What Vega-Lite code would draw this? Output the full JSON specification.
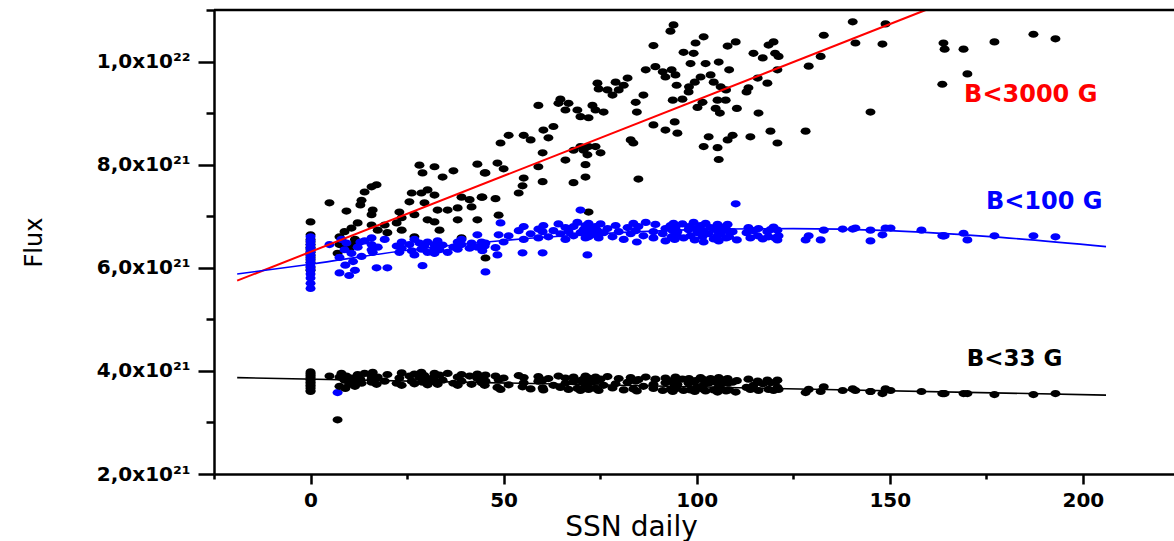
{
  "$schema": "https://vega.github.io/schema/vega-lite/v6.json",
  "autosize": "none",
  "width": 960,
  "height": 464,
  "padding": {"left": 214, "top": 10, "right": 0, "bottom": 67},
  "background": "white",
  "config": {"view": {"stroke": null}, "axis": {"grid": false}},
  "datasets": {
    "pts": [
      {"s":0,"a":6.89,"b":6.6,"c":3.98},{"s":0,"a":6.64,"b":6.52,"c":3.95},{"s":0,"a":6.55,"b":6.45,"c":3.92},{"s":0,"a":6.5,"b":6.38,"c":3.9},{"s":0,"a":6.45,"b":6.31,"c":3.87},{"s":0,"a":6.4,"b":6.24,"c":3.84},{"s":0,"a":6.35,"b":6.17,"c":3.81},{"s":0,"a":6.3,"b":6.1,"c":3.78},{"s":0,"a":6.25,"b":6.03,"c":3.75},{"s":0,"a":6.2,"b":5.96,"c":3.72},{"s":0,"a":6.1,"b":5.88,"c":3.69},{"s":0,"a":6.0,"b":5.8,"c":3.66},{"s":0,"a":5.95,"b":5.7,"c":3.62},{"s":0,"a":6.15,"b":5.6,"c":3.6},
      {"s":4.9,"a":7.26,"b":6.45,"c":3.9},{"s":7.0,"a":6.28,"b":3.58,"c":3.05},{"s":7.5,"a":6.6,"b":6.2,"c":3.88},{"s":7.5,"a":6.45,"b":5.9,"c":3.7},{"s":8.0,"a":6.5,"b":6.55,"c":3.95},{"s":8.8,"a":6.7,"b":6.35,"c":3.82},{"s":9.0,"a":6.4,"b":6.05,"c":3.66},{"s":9.3,"a":7.1,"b":6.48,"c":3.9},{"s":10.0,"a":6.35,"b":5.85,"c":3.74},{"s":10.6,"a":6.77,"b":6.28,"c":3.86},{"s":11.0,"a":6.45,"b":6.12,"c":3.78},{"s":11.5,"a":6.55,"b":5.95,"c":3.7},{"s":12.2,"a":6.87,"b":6.4,"c":3.93},{"s":12.9,"a":7.22,"b":6.5,"c":3.84},{"s":13.2,"a":7.31,"b":6.22,"c":3.76},
      {"s":14.0,"a":7.47,"b":6.52,"c":3.95},{"s":15.8,"a":7.57,"b":6.35,"c":3.78},{"s":15.8,"a":7.03,"b":6.45,"c":3.9},{"s":15.8,"a":6.83,"b":6.58,"c":3.84},{"s":16.1,"a":7.12,"b":6.3,"c":3.97},{"s":17.1,"a":7.61,"b":6.0,"c":3.74},{"s":17.4,"a":6.73,"b":6.4,"c":3.88},{"s":19.2,"a":6.83,"b":6.55,"c":3.8},{"s":19.9,"a":6.68,"b":6.0,"c":3.93},{"s":22.3,"a":6.87,"b":6.42,"c":3.76},{"s":23.0,"a":7.08,"b":6.3,"c":3.86},{"s":23.6,"a":6.97,"b":6.5,"c":3.96},{"s":23.6,"a":6.73,"b":6.38,"c":3.72},{"s":25.6,"a":7.28,"b":6.45,"c":3.9},{"s":26.2,"a":7.45,"b":6.33,"c":3.8},{"s":26.9,"a":7.03,"b":6.55,"c":3.94},{"s":26.9,"a":6.6,"b":6.25,"c":3.75},{"s":28.2,"a":7.99,"b":6.48,"c":3.87},{"s":28.7,"a":7.45,"b":6.36,"c":3.97},{"s":29.0,"a":7.84,"b":6.04,"c":3.78},{"s":29.5,"a":7.26,"b":6.42,"c":3.91},{"s":30.3,"a":7.51,"b":6.3,"c":3.73},{"s":30.3,"a":6.93,"b":6.5,"c":3.85},{"s":32.1,"a":7.96,"b":6.38,"c":3.95},{"s":32.1,"a":7.41,"b":6.45,"c":3.79},{"s":32.1,"a":6.89,"b":6.28,"c":3.89},{"s":32.9,"a":7.12,"b":6.52,"c":3.74},{"s":33.4,"a":6.73,"b":6.35,"c":3.92},{"s":34.2,"a":7.76,"b":6.44,"c":3.82},{"s":35.5,"a":7.12,"b":6.3,"c":3.95},{"s":37.0,"a":7.88,"b":6.4,"c":3.76},{"s":38.1,"a":7.16,"b":6.5,"c":3.88},{"s":38.1,"a":6.93,"b":6.36,"c":3.72},{"s":39.1,"a":7.37,"b":6.45,"c":3.93},{"s":39.1,"a":6.58,"b":6.55,"c":3.8},{"s":41.2,"a":7.32,"b":6.38,"c":3.9},{"s":41.7,"a":7.18,"b":6.48,"c":3.74},{"s":43.2,"a":8.01,"b":6.64,"c":3.85},{"s":43.2,"a":6.93,"b":6.4,"c":3.94},{"s":44.3,"a":7.37,"b":6.5,"c":3.77},{"s":44.5,"a":7.37,"b":6.33,"c":3.89},{"s":45.1,"a":7.84,"b":6.42,"c":3.72},{"s":45.3,"a":7.84,"b":6.48,"c":3.92},{"s":45.3,"a":6.19,"b":5.92,"c":3.8},
      {"s":47.9,"a":7.34,"b":6.39,"c":3.9},{"s":48.4,"a":8.03,"b":6.25,"c":3.68},{"s":48.7,"a":7.02,"b":6.64,"c":3.83},{"s":49.2,"a":8.42,"b":6.87,"c":3.64},{"s":50.0,"a":7.92,"b":6.5,"c":3.86},{"s":51.3,"a":8.57,"b":6.62,"c":3.73},{"s":53.9,"a":7.45,"b":6.72,"c":3.91},{"s":54.9,"a":7.59,"b":6.29,"c":3.69},{"s":55.2,"a":8.57,"b":6.55,"c":3.77},{"s":55.2,"a":7.74,"b":6.8,"c":3.87},{"s":57.0,"a":8.48,"b":6.66,"c":3.65},{"s":59.0,"a":9.15,"b":6.75,"c":3.8},{"s":59.0,"a":7.96,"b":6.58,"c":3.89},{"s":60.1,"a":8.23,"b":6.29,"c":3.67},{"s":60.1,"a":7.67,"b":6.7,"c":3.82},{"s":60.3,"a":8.67,"b":6.82,"c":3.63},{"s":61.6,"a":8.52,"b":6.6,"c":3.85},{"s":62.9,"a":8.74,"b":6.72,"c":3.72},{"s":64.2,"a":9.19,"b":6.85,"c":3.9},{"s":64.7,"a":9.27,"b":6.66,"c":3.68},{"s":66.0,"a":9.06,"b":6.78,"c":3.76},{"s":66.0,"a":8.09,"b":6.55,"c":3.86},{"s":66.8,"a":9.19,"b":6.7,"c":3.64},{"s":68.1,"a":8.28,"b":6.62,"c":3.79},{"s":68.1,"a":7.65,"b":6.8,"c":3.88},{"s":69.1,"a":9.06,"b":6.88,"c":3.66},{"s":69.9,"a":8.93,"b":7.12,"c":3.81},{"s":69.9,"a":8.35,"b":6.68,"c":3.62},{"s":70.7,"a":8.28,"b":6.74,"c":3.84},{"s":71.2,"a":8.0,"b":6.58,"c":3.72},{"s":71.2,"a":7.76,"b":6.82,"c":3.9},{"s":71.7,"a":8.19,"b":6.25,"c":3.68},{"s":72.0,"a":8.91,"b":6.7,"c":3.76},{"s":72.0,"a":8.35,"b":6.6,"c":3.86},{"s":72.0,"a":7.08,"b":6.86,"c":3.64},{"s":73.0,"a":9.15,"b":6.75,"c":3.79},{"s":73.8,"a":9.06,"b":6.64,"c":3.88},{"s":73.8,"a":8.35,"b":6.8,"c":3.66},{"s":74.3,"a":9.58,"b":6.72,"c":3.81},{"s":74.6,"a":9.47,"b":6.58,"c":3.62},{"s":75.1,"a":8.23,"b":6.85,"c":3.84},{"s":75.9,"a":9.02,"b":6.68,"c":3.72},{"s":76.9,"a":9.45,"b":6.76,"c":3.89},{"s":78.2,"a":9.35,"b":6.6,"c":3.67},{"s":79.0,"a":9.6,"b":6.82,"c":3.75},{"s":79.8,"a":9.45,"b":6.7,"c":3.85},{"s":81.1,"a":9.54,"b":6.55,"c":3.63},{"s":82.1,"a":9.68,"b":6.78,"c":3.78},{"s":82.9,"a":8.48,"b":6.66,"c":3.87},{"s":83.6,"a":8.42,"b":6.86,"c":3.65},{"s":84.2,"a":9.21,"b":6.72,"c":3.8},{"s":84.5,"a":9.02,"b":6.5,"c":3.61},{"s":84.9,"a":7.72,"b":6.8,"c":3.83},{"s":86.2,"a":9.35,"b":6.62,"c":3.7},{"s":86.8,"a":9.84,"b":6.88,"c":3.88},{"s":88.8,"a":10.31,"b":6.7,"c":3.66},{"s":88.8,"a":8.77,"b":6.58,"c":3.74},{"s":89.3,"a":9.9,"b":6.84,"c":3.84},{"s":91.2,"a":9.8,"b":6.66,"c":3.62},{"s":91.9,"a":9.7,"b":6.76,"c":3.77},{"s":91.9,"a":8.67,"b":6.52,"c":3.86},{"s":93.2,"a":10.59,"b":6.82,"c":3.64},{"s":93.5,"a":9.84,"b":6.6,"c":3.79},{"s":93.8,"a":9.25,"b":6.72,"c":3.6},{"s":94.0,"a":10.71,"b":6.86,"c":3.82},{"s":94.3,"a":8.83,"b":6.55,"c":3.7},{"s":94.5,"a":9.74,"b":6.78,"c":3.88},{"s":94.8,"a":9.54,"b":6.64,"c":3.66},{"s":95.0,"a":8.61,"b":6.7,"c":3.74},{"s":96.3,"a":9.27,"b":6.85,"c":3.84},{"s":96.6,"a":10.18,"b":6.58,"c":3.62},{"s":97.9,"a":9.41,"b":6.74,"c":3.76},{"s":98.0,"a":9.51,"b":6.8,"c":3.85},{"s":98.4,"a":9.96,"b":6.62,"c":3.63},{"s":99.2,"a":10.16,"b":6.88,"c":3.78},{"s":99.5,"a":9.6,"b":6.54,"c":3.6},{"s":99.7,"a":10.36,"b":6.76,"c":3.81},{"s":100.2,"a":9.11,"b":6.68,"c":3.69},{"s":101.0,"a":9.7,"b":6.82,"c":3.87},{"s":101.5,"a":9.21,"b":6.6,"c":3.65},{"s":101.8,"a":10.48,"b":6.72,"c":3.73},{"s":101.8,"a":8.35,"b":6.5,"c":3.83},{"s":102.3,"a":9.96,"b":6.86,"c":3.61},{"s":103.1,"a":8.54,"b":6.66,"c":3.76},{"s":103.6,"a":9.74,"b":6.78,"c":3.85},{"s":104.4,"a":9.6,"b":6.56,"c":3.63},{"s":104.9,"a":9.09,"b":6.74,"c":3.78},{"s":105.4,"a":9.25,"b":6.84,"c":3.59},{"s":105.4,"a":8.33,"b":6.62,"c":3.81},{"s":105.7,"a":9.99,"b":6.7,"c":3.69},{"s":105.7,"a":8.1,"b":6.52,"c":3.87},{"s":106.0,"a":9.0,"b":6.8,"c":3.65},{"s":106.2,"a":9.51,"b":6.66,"c":3.73},{"s":107.5,"a":9.25,"b":6.76,"c":3.83},{"s":107.6,"a":9.45,"b":6.58,"c":3.61},{"s":108.0,"a":10.3,"b":6.72,"c":3.76},{"s":108.0,"a":8.48,"b":6.84,"c":3.85},{"s":108.4,"a":9.84,"b":6.6,"c":3.63},{"s":109.3,"a":8.57,"b":6.7,"c":3.78},{"s":110.1,"a":10.38,"b":7.24,"c":3.59},{"s":110.4,"a":9.09,"b":6.54,"c":3.81},{"s":112.9,"a":9.41,"b":6.68,"c":3.68},{"s":113.4,"a":9.49,"b":6.78,"c":3.84},{"s":113.9,"a":8.54,"b":6.58,"c":3.64},{"s":114.7,"a":10.16,"b":6.72,"c":3.72},{"s":115.8,"a":9.68,"b":6.62,"c":3.8},{"s":116.0,"a":9.0,"b":6.76,"c":3.62},{"s":117.1,"a":10.07,"b":6.56,"c":3.75},{"s":118.3,"a":9.58,"b":6.7,"c":3.82},{"s":118.6,"a":10.32,"b":6.6,"c":3.64},{"s":119.1,"a":8.65,"b":6.74,"c":3.77},{"s":119.9,"a":10.38,"b":6.79,"c":3.62},{"s":120.3,"a":10.16,"b":6.58,"c":3.78},{"s":120.9,"a":9.84,"b":6.73,"c":3.68},{"s":120.9,"a":8.42,"b":6.54,"c":3.82},{"s":121.2,"a":10.1,"b":6.62,"c":3.64},
      {"s":128.2,"a":8.65,"b":6.54,"c":3.58},{"s":129.0,"a":9.91,"b":6.62,"c":3.64},{"s":132.1,"a":10.1,"b":6.54,"c":3.6},{"s":132.9,"a":10.51,"b":6.73,"c":3.69},{"s":137.8,"a":null,"b":6.75,"c":3.62},{"s":140.4,"a":10.77,"b":6.75,"c":3.65},{"s":141.1,"a":10.36,"b":6.77,"c":3.62},{"s":145.0,"a":9.02,"b":6.73,"c":3.6},{"s":145.0,"a":null,"b":6.52,"c":3.6},{"s":148.1,"a":10.34,"b":6.64,"c":3.56},{"s":148.9,"a":10.73,"b":6.77,"c":3.65},{"s":150.2,"a":null,"b":6.77,"c":3.62},{"s":158.2,"a":null,"b":6.73,"c":3.6},{"s":163.9,"a":10.36,"b":6.62,"c":3.56},{"s":164.2,"a":10.24,"b":6.62,"c":3.56},{"s":163.6,"a":9.56,"b":6.62,"c":3.56},{"s":169.1,"a":10.24,"b":6.67,"c":3.56},{"s":170.1,"a":9.76,"b":6.54,"c":3.56},{"s":177.1,"a":10.38,"b":6.62,"c":3.54},{"s":187.2,"a":10.53,"b":6.62,"c":3.54},{"s":192.9,"a":10.44,"b":6.6,"c":3.56}
    ]
  },
  "data": {"name": "pts"},
  "layer": [
    {
      "mark": {"type": "point", "filled": true, "opacity": 1, "strokeWidth": 0, "color": "#000000", "size": 100, "shape": "M-1,0A1,0.72,0,1,0,1,0A1,0.72,0,1,0,-1,0Z"},
      "encoding": {
        "x": {"field": "s", "type": "quantitative", "scale": {"domain": [-25, 223.6], "nice": false, "zero": false},
          "axis": {"title": "SSN daily", "values": [-25,0,25,50,75,100,125,150,175,200],
            "labelExpr": "datum.value % 50 === 0 ? datum.label : ''",
            "labelFont": "DejaVu Sans", "labelFontWeight": "bold", "labelFontSize": 20, "labelColor": "#000000", "labelPadding": 6, "labelFlush": false, "labelOverlap": false,
            "tickSize": {"condition": {"test": "datum.value % 50 === 0", "value": 10}, "value": 5},
            "tickWidth": 2.5, "tickColor": "#000000", "domainWidth": 2.5, "domainColor": "#000000",
            "titleFont": "DejaVu Sans", "titleFontWeight": "normal", "titleFontSize": 28, "titleColor": "#000000",
            "titleX": 417, "titleY": 61, "titleAlign": "center", "titleBaseline": "alphabetic"}},
        "y": {"field": "a", "type": "quantitative", "scale": {"domain": [2, 11], "nice": false, "zero": false},
          "axis": {"title": "Flux", "values": [2,3,4,5,6,7,8,9,10,11],
            "labelExpr": "datum.value === 10 ? '1,0x10²²' : (datum.value % 2 === 0 ? datum.value + ',0x10²¹' : '')",
            "labelFont": "DejaVu Sans", "labelFontWeight": "bold", "labelFontSize": 20, "labelColor": "#000000", "labelPadding": 8, "labelOverlap": false, "labelBaseline": "middle",
            "tickSize": {"condition": {"test": "datum.value % 2 === 0", "value": 16}, "value": 8},
            "tickWidth": 2.5, "tickColor": "#000000", "domainWidth": 2.5, "domainColor": "#000000",
            "titleFont": "DejaVu Sans", "titleFontWeight": "normal", "titleFontSize": 24, "titleColor": "#000000",
            "titleX": -180, "titleY": 232, "titleAngle": -90, "titleAlign": "center", "titleBaseline": "middle"}}
      }
    },
    {
      "mark": {"type": "point", "filled": true, "opacity": 1, "strokeWidth": 0, "color": "#0000ff", "size": 100, "shape": "M-1,0A1,0.72,0,1,0,1,0A1,0.72,0,1,0,-1,0Z"},
      "encoding": {"x": {"field": "s", "type": "quantitative"}, "y": {"field": "b", "type": "quantitative"}}
    },
    {
      "mark": {"type": "point", "filled": true, "opacity": 1, "strokeWidth": 0, "color": "#000000", "size": 100, "shape": "M-1,0A1,0.72,0,1,0,1,0A1,0.72,0,1,0,-1,0Z"},
      "encoding": {"x": {"field": "s", "type": "quantitative"}, "y": {"field": "c", "type": "quantitative"}}
    },
    {
      "data": {"values": [{"s": -19, "f": 5.75}, {"s": 159.3, "f": 11.0}]},
      "mark": {"type": "line", "color": "#ff0000", "strokeWidth": 2},
      "encoding": {"x": {"field": "s", "type": "quantitative"}, "y": {"field": "f", "type": "quantitative"}}
    },
    {
      "data": {"values": [{"s": -19, "f": 5.88}, {"s": 0, "f": 6.07}, {"s": 25, "f": 6.34}, {"s": 50, "f": 6.53}, {"s": 75, "f": 6.66}, {"s": 100, "f": 6.74}, {"s": 125, "f": 6.76}, {"s": 150, "f": 6.72}, {"s": 175, "f": 6.61}, {"s": 206, "f": 6.41}]},
      "mark": {"type": "line", "color": "#0000ff", "strokeWidth": 1.6, "interpolate": "monotone"},
      "encoding": {"x": {"field": "s", "type": "quantitative"}, "y": {"field": "f", "type": "quantitative"}}
    },
    {
      "data": {"values": [{"s": -19, "f": 3.87}, {"s": 206, "f": 3.53}]},
      "mark": {"type": "line", "color": "#000000", "strokeWidth": 1.6},
      "encoding": {"x": {"field": "s", "type": "quantitative"}, "y": {"field": "f", "type": "quantitative"}}
    },
    {
      "data": {"values": [{"s": 186.5, "f": 9.35, "t": "B<3000 G"}]},
      "mark": {"type": "text", "color": "#ff0000", "font": "DejaVu Sans", "fontWeight": "bold", "fontSize": 24, "align": "center", "baseline": "middle"},
      "encoding": {"x": {"field": "s", "type": "quantitative"}, "y": {"field": "f", "type": "quantitative"}, "text": {"field": "t"}}
    },
    {
      "data": {"values": [{"s": 190.0, "f": 7.28, "t": "B<100 G"}]},
      "mark": {"type": "text", "color": "#0000ff", "font": "DejaVu Sans", "fontWeight": "bold", "fontSize": 24, "align": "center", "baseline": "middle"},
      "encoding": {"x": {"field": "s", "type": "quantitative"}, "y": {"field": "f", "type": "quantitative"}, "text": {"field": "t"}}
    },
    {
      "data": {"values": [{"s": 182.3, "f": 4.23, "t": "B<33  G"}]},
      "mark": {"type": "text", "color": "#000000", "font": "DejaVu Sans", "fontWeight": "bold", "fontSize": 23, "align": "center", "baseline": "middle"},
      "encoding": {"x": {"field": "s", "type": "quantitative"}, "y": {"field": "f", "type": "quantitative"}, "text": {"field": "t"}}
    },
    {
      "data": {"values": [{"f": 11}]},
      "mark": {"type": "rule", "color": "#000000", "strokeWidth": 2.5},
      "encoding": {"y": {"field": "f", "type": "quantitative"}}
    }
  ]
}
